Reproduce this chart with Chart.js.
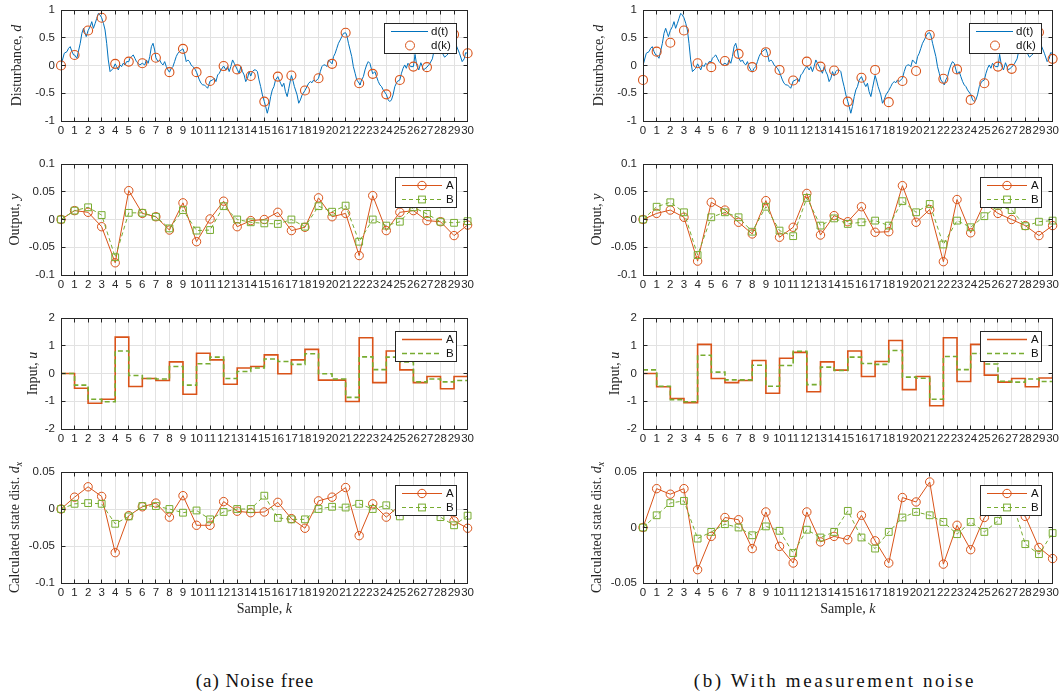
<!DOCTYPE html>
<html><head><meta charset="utf-8">
<script src="https://cdn.jsdelivr.net/npm/chart.js@4/dist/chart.umd.min.js"></script>
<style>
html,body{margin:0;padding:0;background:#fff;}
body{width:1062px;height:693px;position:relative;overflow:hidden;}
canvas{position:absolute;}
.cap{position:absolute;width:460px;text-align:center;font-family:"Liberation Serif","Times New Roman",serif;font-size:19px;color:#111;line-height:22px;}
</style></head><body>
<div class="cap" style="left:25px;top:670px;letter-spacing:1px">(a) Noise free</div>
<div class="cap" style="left:605px;top:670px;letter-spacing:2.6px">(b) With measurement noise</div>
<script>
// ---------- data ----------
const k = [0,1,2,3,4,5,6,7,8,9,10,11,12,13,14,15,16,17,18,19,20,21,22,23,24,25,26,27,28,29,30];
const xTicks = [0,1,2,3,4,5,6,7,8,9,10,11,12,13,14,15,16,17,18,19,20,21,22,23,24,25,26,27,28,29,30];
const xTickLabels = ['0','1','2','3','4','5','6','7','8','9','10','11','12','13','14','15','16','17','18','19','20','21','22','23','24','25','26','27','28','29','30'];

const dTicks = [-1,-0.5,0,0.5,1];            const dTickLabels = ['-1','-0.5','0','0.5','1'];
const yTicks = [-0.1,-0.05,0,0.05,0.1];      const yTickLabels = ['-0.1','-0.05','0','0.05','0.1'];
const uTicks = [-2,-1,0,1,2];                const uTickLabels = ['-2','-1','0','1','2'];
const dxTicksFree = [-0.1,-0.05,0,0.05];     const dxTickLabelsFree = ['-0.1','-0.05','0','0.05'];
const dxTicksNoisy = [-0.05,0,0.05];         const dxTickLabelsNoisy = ['-0.05','0','0.05'];

// continuous disturbance d(t)
const dtTime = [0,0.24,0.44,0.56,0.68,0.81,0.93,1.00,
 1.17,1.42,1.54,1.66,1.78,1.86,2.00,
 2.15,2.27,2.39,2.52,2.64,2.76,2.88,3.00,
 3.13,3.25,3.37,3.49,3.62,3.74,3.86,4.00,
 4.10,4.23,4.35,4.47,4.59,4.72,4.84,5.00,
 5.08,5.20,5.33,5.45,5.57,5.69,5.81,6.00,
 6.18,6.30,6.43,6.55,6.67,6.79,6.91,7.00,
 7.16,7.28,7.40,7.53,7.65,7.77,7.89,8.00,
 8.14,8.26,8.38,8.50,8.62,8.75,8.87,9.00,
 9.11,9.24,9.36,9.48,9.60,9.72,9.85,10.00,
 10.21,10.33,10.46,10.58,10.70,10.82,11.00,
 11.19,11.31,11.43,11.56,11.68,11.80,12.00,
 12.17,12.29,12.41,12.53,12.66,12.78,13.00,
 13.14,13.27,13.39,13.51,13.63,13.76,13.88,14.00,
 14.12,14.24,14.37,14.49,14.61,14.73,14.86,15.00,
 15.10,15.22,15.34,15.47,15.59,15.71,15.83,16.00,
 16.20,16.32,16.44,16.56,16.69,16.81,17.00,
 17.10,17.22,17.42,17.54,17.66,17.79,18.00,
 18.15,18.27,18.40,18.52,18.64,18.76,19.00,
 19.13,19.25,19.37,19.50,19.62,19.74,20.00,
 20.11,20.23,20.35,20.47,20.60,20.72,20.84,21.00,
 21.08,21.21,21.33,21.45,21.57,21.70,21.82,22.00,
 22.06,22.18,22.31,22.43,22.55,22.67,22.79,23.00,
 23.16,23.28,23.41,23.53,23.65,23.77,24.00,
 24.14,24.26,24.38,24.50,24.63,24.80,25.00,
 25.12,25.24,25.36,25.48,25.60,25.80,26.00,
 26.12,26.25,26.40,26.55,26.75,27.00,
 27.20,27.40,27.55,27.70,27.85,28.00,
 28.15,28.30,28.45,28.60,28.80,29.00,
 29.20,29.40,29.60,29.75,29.85,30.00];
const dtValue = [0,0.22,0.25,0.31,0.34,0.25,0.19,0.19,
 0.13,0.40,0.58,0.67,0.58,0.52,0.63,
 0.70,0.79,0.67,0.76,0.85,0.94,0.91,0.86,
 0.76,0.64,0.40,0.10,-0.11,-0.08,-0.05,0.03,
 -0.02,-0.08,0.01,-0.02,0.04,0.01,0.07,0.07,
 0.13,0.16,0.19,0.13,0.07,0.04,0.01,0.04,
 0.01,0.10,0.04,0.16,0.34,0.40,0.28,0.14,
 0.07,0.10,0.04,0.01,0.07,-0.02,-0.08,-0.12,
 -0.05,-0.02,0.07,0.16,0.22,0.25,0.28,0.30,
 0.22,0.07,0.10,0.07,0.01,-0.02,-0.05,-0.12,
 -0.26,-0.32,-0.35,-0.35,-0.38,-0.41,-0.28,
 -0.26,-0.23,-0.29,-0.17,-0.14,-0.08,-0.01,
 -0.08,-0.02,-0.11,-0.02,0.10,0.04,-0.07,
 -0.14,-0.02,-0.11,-0.17,-0.29,-0.23,-0.11,-0.19,
 -0.11,-0.08,-0.08,-0.11,-0.26,-0.38,-0.53,-0.65,
 -0.74,-0.86,-0.74,-0.56,-0.44,-0.38,-0.26,-0.20,
 -0.32,-0.38,-0.32,-0.47,-0.56,-0.41,-0.18,
 -0.26,-0.38,-0.53,-0.68,-0.62,-0.53,-0.45,
 -0.38,-0.32,-0.29,-0.31,-0.26,-0.29,-0.23,
 -0.11,-0.02,0.01,0.01,-0.02,0.10,0.03,
 0.16,0.22,0.31,0.40,0.46,0.52,0.58,0.59,
 0.55,0.40,0.28,0.16,-0.02,-0.14,-0.26,-0.32,
 -0.35,-0.26,-0.20,-0.08,0.01,0.07,0.04,-0.15,
 -0.11,-0.20,-0.29,-0.35,-0.38,-0.44,-0.52,
 -0.62,-0.65,-0.62,-0.53,-0.38,-0.29,-0.26,
 -0.14,-0.05,0.01,-0.05,0.04,-0.02,-0.02,
 0.20,0.00,-0.08,0.05,-0.08,-0.03,
 0.03,0.12,0.30,0.40,0.33,0.30,
 0.22,0.15,0.18,0.22,0.45,0.56,
 0.34,0.22,0.07,0.12,0.23,0.22];

// sampled disturbance d(k)
const dkFree  = [0,0.19,0.63,0.86,0.03,0.07,0.04,0.14,-0.12,0.30,-0.12,-0.28,-0.01,-0.07,-0.19,-0.65,-0.20,-0.18,-0.45,-0.23,0.03,0.59,-0.32,-0.15,-0.52,-0.26,-0.02,-0.03,0.30,0.56,0.22];
const dkNoisy = [-0.26,0.25,0.41,0.63,0.04,-0.03,0.08,0.21,-0.03,0.24,-0.08,-0.27,0.07,-0.02,-0.09,-0.65,-0.22,-0.08,-0.66,-0.28,-0.10,0.55,-0.24,-0.07,-0.62,-0.32,-0.02,-0.06,0.30,0.60,0.12];

// output y
const yFreeA  = [0,0.016,0.013,-0.013,-0.078,0.052,0.011,0.005,-0.019,0.030,-0.040,0.001,0.033,-0.013,-0.002,0.000,0.013,-0.020,-0.014,0.039,0.005,0.011,-0.065,0.043,-0.020,0.013,0.016,-0.002,-0.004,-0.029,-0.010];
const yFreeB  = [0,0.016,0.022,0.008,-0.068,0.012,0.012,0.005,-0.016,0.017,-0.020,-0.019,0.024,0.000,-0.005,-0.007,-0.008,0.000,-0.013,0.024,0.014,0.025,-0.040,0.000,-0.011,-0.004,0.022,0.010,-0.004,-0.006,-0.003];
const yNoisyA = [0,0.011,0.017,0.004,-0.075,0.031,0.017,-0.005,-0.026,0.034,-0.032,-0.014,0.047,-0.028,0.007,-0.004,0.023,-0.023,-0.022,0.061,-0.005,0.018,-0.076,0.036,-0.024,0.030,0.011,0.000,-0.011,-0.029,-0.011];
const yNoisyB = [0,0.023,0.031,0.013,-0.064,0.004,0.013,0.004,-0.022,0.023,-0.020,-0.030,0.039,-0.011,0.002,-0.008,-0.005,-0.002,-0.011,0.033,0.013,0.028,-0.045,-0.002,-0.014,0.006,0.025,0.017,-0.012,-0.004,-0.002];

// input u
const uFreeA  = [0,-0.53,-1.07,-0.93,1.31,-0.47,-0.18,-0.25,0.42,-0.75,0.73,0.49,-0.39,0.20,0.25,0.67,-0.01,0.49,0.87,-0.24,-0.24,-1.01,1.29,-0.33,0.81,0.13,-0.33,-0.11,-0.55,-0.11,0];
const uFreeB  = [0,-0.42,-0.93,-1.02,0.81,-0.07,-0.18,-0.20,0.25,-0.42,0.35,0.59,-0.18,0.07,0.20,0.52,0.43,0.33,0.71,-0.01,-0.20,-0.86,0.60,0.14,0.59,0.42,-0.30,-0.20,-0.30,-0.25,-0.25];
const uNoisyA = [0,-0.48,-0.90,-1.05,1.05,-0.18,-0.33,-0.25,0.47,-0.71,0.55,0.76,-0.66,0.42,0.12,0.81,-0.11,0.43,1.19,-0.58,-0.11,-1.16,1.29,-0.29,1.05,-0.06,-0.31,-0.18,-0.48,-0.16,-0.05];
const uNoisyB = [0.13,-0.46,-0.94,-1.02,0.66,0.05,-0.23,-0.23,0.30,-0.46,0.29,0.80,-0.40,0.23,0.11,0.59,0.36,0.33,0.83,-0.13,-0.17,-0.93,0.61,0.14,0.72,0.34,-0.28,-0.31,-0.20,-0.29,-0.29];

// calculated state disturbance dx
const dxFreeA  = [0,0.016,0.030,0.017,-0.059,-0.009,0.003,0.008,-0.011,0.018,-0.022,-0.022,0.010,-0.003,-0.005,-0.004,0.009,-0.013,-0.026,0.011,0.016,0.029,-0.036,0.007,-0.011,0.005,0.010,0.008,0.012,-0.016,-0.026];
const dxFreeB  = [0,0.007,0.008,0.007,-0.020,-0.010,0.004,0.004,0.000,-0.005,-0.002,-0.014,-0.004,0.000,0.000,0.018,-0.012,-0.014,-0.014,0.000,0.003,0.002,0.007,0.000,0.005,-0.010,0.000,-0.002,-0.011,-0.022,-0.009];
const dxNoisyA = [0,0.035,0.030,0.035,-0.038,-0.008,0.009,0.007,-0.019,0.014,-0.017,-0.032,0.014,-0.013,-0.008,-0.011,0.011,-0.012,-0.032,0.027,0.023,0.041,-0.033,0.002,-0.020,0.009,0.020,0.018,0.010,-0.018,-0.028];
const dxNoisyB = [0,0.011,0.022,0.024,-0.010,-0.004,0.003,0.000,-0.007,0.001,-0.003,-0.023,-0.002,-0.009,-0.004,0.015,-0.009,-0.019,-0.004,0.009,0.014,0.011,0.005,-0.006,0.005,-0.004,0.006,0.025,-0.015,-0.024,-0.005];

// ---------- styling ----------
const BLUE='#0072BD', ORANGE='#D95319', GREEN='#77AC30', INK='#262626', GRID='#e2e2e2';
const SANS='"Liberation Sans", Arial, Helvetica, sans-serif';
const SERIF='"Liberation Serif", "Times New Roman", serif';
const COLS=[{px:61,pw:409},{px:643,pw:412}];
const ROWS=[10,164,318,472];
const PH=111;

function pts(xs,ys){return xs.map((x,i)=>({x:x,y:ys[i]}));}
function lineA(v){return {data:pts(k,v),borderColor:ORANGE,borderWidth:1,pointStyle:'circle',pointRadius:4.2,pointBorderColor:ORANGE,pointBackgroundColor:'rgba(0,0,0,0)',pointBorderWidth:1,clip:false,order:1};}
function lineB(v){return {data:pts(k,v),borderColor:GREEN,borderWidth:1,borderDash:[4,3],pointStyle:'rect',pointRadius:4.8,pointBorderColor:GREEN,pointBackgroundColor:'rgba(0,0,0,0)',pointBorderWidth:1,clip:false,order:0};}
function stairA(v){return {data:pts(k,v),borderColor:ORANGE,borderWidth:1.6,stepped:true,pointRadius:0,order:1};}
function stairB(v){return {data:pts(k,v),borderColor:GREEN,borderWidth:1.6,borderDash:[5,3],stepped:true,pointRadius:0,order:0};}
function distLine(){return {data:pts(dtTime,dtValue),borderColor:BLUE,borderWidth:1,pointRadius:0,order:1};}
function distPts(v){return {data:pts(k,v),showLine:false,pointStyle:'circle',pointRadius:4.5,pointBorderColor:ORANGE,pointBackgroundColor:'rgba(0,0,0,0)',pointBorderWidth:1.1,clip:false,order:0};}

const legD={w:72,lineEnd:44,mark:26,text:47,items:[{label:'d(t)',color:BLUE,line:true},{label:'d(k)',color:ORANGE,marker:'circle',r:4.5}]};
const legAB={w:61,lineEnd:47,mark:27,text:51,items:[{label:'A',color:ORANGE,line:true,marker:'circle',r:4.2},{label:'B',color:GREEN,line:true,dash:[4,3],marker:'rect'}]};
const legU={w:61,lineEnd:47,mark:27,text:51,items:[{label:'A',color:ORANGE,line:true,lw:1.6},{label:'B',color:GREEN,line:true,dash:[5,3],lw:1.6}]};

function drawRich(ctx,parts,size){
  let total=0;
  const fs=parts.map(p=>{const f=(p.i?'italic ':'')+(p.sub?Math.round(size*0.72):size)+'px '+SERIF;ctx.font=f;const w=ctx.measureText(p.t).width;total+=w;return {f:f,w:w};});
  let xx=-total/2;
  ctx.fillStyle=INK;ctx.textBaseline='middle';ctx.textAlign='left';
  parts.forEach((p,j)=>{ctx.font=fs[j].f;ctx.fillText(p.t,xx,p.sub?size*0.3:0);xx+=fs[j].w;});
}
function drawLegend(ctx,ca,lg){
  const x0=Math.round(ca.right)-12-lg.w, y0=Math.round(ca.top)+13, h=30;
  ctx.save();
  ctx.fillStyle='#fff';ctx.fillRect(x0,y0,lg.w,h);
  ctx.strokeStyle=INK;ctx.lineWidth=1;ctx.setLineDash([]);ctx.strokeRect(x0+0.5,y0+0.5,lg.w,h);
  lg.items.forEach((it,i)=>{
    const cy=y0+8.5+i*14;
    ctx.strokeStyle=it.color;
    if(it.line){ctx.lineWidth=it.lw||1;ctx.setLineDash(it.dash||[]);ctx.beginPath();ctx.moveTo(x0+7,cy);ctx.lineTo(x0+lg.lineEnd,cy);ctx.stroke();}
    ctx.setLineDash([]);ctx.lineWidth=1;
    const mx=x0+lg.mark;
    if(it.marker==='circle'){ctx.beginPath();ctx.arc(mx,cy,it.r,0,2*Math.PI);ctx.stroke();}
    if(it.marker==='rect'){ctx.strokeRect(mx-3.4,cy-3.4,6.8,6.8);}
    ctx.fillStyle='#111';ctx.font='11.5px '+SANS;ctx.textBaseline='middle';ctx.textAlign='left';
    ctx.fillText(it.label,x0+lg.text,cy);
  });
  ctx.restore();
}
function decor(o){
  return {id:'decor',
    afterDatasetsDraw(chart){
      const ctx=chart.ctx, ca=chart.chartArea, x=chart.scales.x, y=chart.scales.y;
      const a=p=>Math.round(p-0.5)+0.5;
      const L=a(ca.left),R=a(ca.right),T=a(ca.top),B=a(ca.bottom);
      ctx.save();ctx.strokeStyle=INK;ctx.lineWidth=1;ctx.setLineDash([]);
      ctx.beginPath();
      x.ticks.forEach(t=>{const px=a(x.getPixelForValue(t.value));ctx.moveTo(px,B);ctx.lineTo(px,B-4);ctx.moveTo(px,T);ctx.lineTo(px,T+4);});
      y.ticks.forEach(t=>{const py=a(y.getPixelForValue(t.value));ctx.moveTo(L,py);ctx.lineTo(L+4,py);ctx.moveTo(R,py);ctx.lineTo(R-4,py);});
      ctx.stroke();
      ctx.strokeRect(L,T,R-L,B-T);
      ctx.restore();
    },
    afterDraw(chart){
      const ctx=chart.ctx, ca=chart.chartArea;
      drawLegend(ctx,ca,o.legend);
      ctx.save();ctx.translate(ca.left-o.yoff,(ca.top+ca.bottom)/2);ctx.rotate(-Math.PI/2);drawRich(ctx,o.ylabel,14);ctx.restore();
      if(o.xtitle){ctx.save();ctx.translate((ca.left+ca.right)/2,ca.bottom+26);drawRich(ctx,o.xtitle,14);ctx.restore();}
    }
  };
}
function makeChart(o){
  const padTop=20,padRight=7,yW=61,xH=24+(o.xtitle?34:0);
  const w=yW+o.pw+padRight,h=padTop+PH+xH;
  const cv=document.createElement('canvas');cv.width=w;cv.height=h;
  cv.style.left=(o.px-yW)+'px';cv.style.top=(o.py-padTop)+'px';cv.style.width=w+'px';cv.style.height=h+'px';
  document.body.appendChild(cv);
  new Chart(cv.getContext('2d'),{
    type:'line',
    data:{datasets:o.datasets},
    options:{
      responsive:false,animation:false,events:[],devicePixelRatio:1,
      layout:{padding:{top:padTop,right:padRight,left:0,bottom:0}},
      plugins:{legend:{display:false},tooltip:{enabled:false},title:{display:false}},
      scales:{
        x:{type:'linear',min:0,max:30,
          afterBuildTicks:s=>{s.ticks=xTicks.map(v=>({value:v}));},
          afterFit:s=>{s.height=xH;},
          ticks:{autoSkip:false,maxRotation:0,minRotation:0,padding:3,color:INK,font:{family:SANS,size:11.5},callback:(v,i)=>xTickLabels[i]},
          grid:{color:GRID,lineWidth:1,drawTicks:false},border:{display:false}},
        y:{type:'linear',min:o.ymin,max:o.ymax,
          afterBuildTicks:s=>{s.ticks=o.yTicks.map(v=>({value:v}));},
          afterFit:s=>{s.width=yW;},
          ticks:{autoSkip:false,padding:6,color:INK,font:{family:SANS,size:11.5},callback:(v,i)=>o.yLabels[i]},
          grid:{color:GRID,lineWidth:1,drawTicks:false},border:{display:false}}
      }
    },
    plugins:[decor(o)]
  });
}

const ylD=[{t:'Disturbance, '},{t:'d',i:1}];
const ylY=[{t:'Output, '},{t:'y',i:1}];
const ylU=[{t:'Input, '},{t:'u',i:1}];
const ylX=[{t:'Calculated state dist. '},{t:'d',i:1},{t:'x',i:1,sub:1}];
const xT=[{t:'Sample, '},{t:'k',i:1}];

const sets=[
  {dk:dkFree, y:[yFreeA,yFreeB], u:[uFreeA,uFreeB], dx:[dxFreeA,dxFreeB], dxmin:-0.1, dxT:dxTicksFree, dxL:dxTickLabelsFree},
  {dk:dkNoisy, y:[yNoisyA,yNoisyB], u:[uNoisyA,uNoisyB], dx:[dxNoisyA,dxNoisyB], dxmin:-0.05, dxT:dxTicksNoisy, dxL:dxTickLabelsNoisy}
];
sets.forEach((s,c)=>{
  const col=COLS[c];
  makeChart({px:col.px,pw:col.pw,py:ROWS[0],ymin:-1,ymax:1,yTicks:dTicks,yLabels:dTickLabels,datasets:[distLine(),distPts(s.dk)],legend:legD,ylabel:ylD,yoff:44});
  makeChart({px:col.px,pw:col.pw,py:ROWS[1],ymin:-0.1,ymax:0.1,yTicks:yTicks,yLabels:yTickLabels,datasets:[lineA(s.y[0]),lineB(s.y[1])],legend:legAB,ylabel:ylY,yoff:46});
  makeChart({px:col.px,pw:col.pw,py:ROWS[2],ymin:-2,ymax:2,yTicks:uTicks,yLabels:uTickLabels,datasets:[stairA(s.u[0]),stairB(s.u[1])],legend:legU,ylabel:ylU,yoff:28});
  makeChart({px:col.px,pw:col.pw,py:ROWS[3],ymin:s.dxmin,ymax:0.05,yTicks:s.dxT,yLabels:s.dxL,datasets:[lineA(s.dx[0]),lineB(s.dx[1])],legend:legAB,ylabel:ylX,yoff:46,xtitle:xT});
});
</script></body></html>
